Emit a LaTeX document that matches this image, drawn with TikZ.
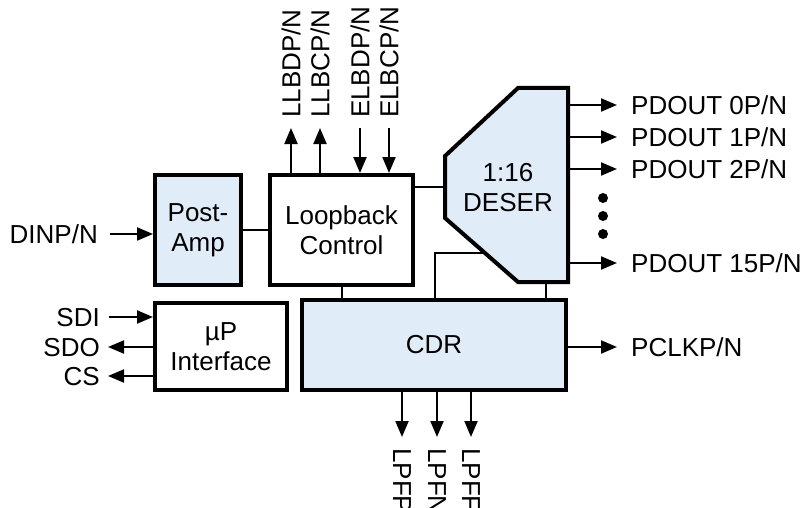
\documentclass[tikz,border=0pt]{standalone}
\usepackage{fontspec}
\setmainfont{Liberation Sans}
\usetikzlibrary{arrows.meta}
\definecolor{boxblue}{RGB}{225,236,249}
\begin{document}
\begin{tikzpicture}[x=1pt,y=-1pt,
  font=\fontsize{26}{30}\selectfont,
  blk/.style={draw, line width=4pt, inner sep=0pt, align=center},
  bluefill/.style={fill=boxblue},
  conn/.style={line width=2pt},
  arr/.style={line width=2pt, -{Triangle[length=16pt,width=13pt]}},
  lbl/.style={inner sep=0pt},
  dotnode/.style={circle, fill=black, inner sep=0pt, minimum size=10pt}
]
\useasboundingbox (0,0) rectangle (808,508);
\clip (0,0) rectangle (808,508);

% blocks
\node[blk, bluefill, minimum width=86pt, minimum height=110pt] (post) at (198,230) {Post-\\Amp};
\node[blk, minimum width=143pt, minimum height=110pt] (loop) at (341.5,230) {Loopback\\Control};
\node[blk, minimum width=132pt, minimum height=87pt] (up) at (221,346.5) {µP\\Interface};
\node[blk, bluefill, minimum width=264pt, minimum height=90pt] (cdr) at (434,345) {CDR};

% DESER trapezoid
\coordinate (d1) at (518,88);
\coordinate (d2) at (568,88);
\coordinate (d3) at (568,282);
\coordinate (d4) at (518,282);
\coordinate (d5) at (445,218);
\coordinate (d6) at (445,156);
\draw[line width=4pt, fill=boxblue, line join=miter] (d1) -- (d2) -- (d3) -- (d4) -- (d5) -- (d6) -- cycle;
\node[lbl, align=center] (deser) at (508,188) {1:16\\DESER};

% internal connections
\coordinate (dl) at (445,187);
\draw[conn] (loop.east |- dl) -- (dl);
\draw[conn] (post.east) -- (loop.west |- post.east);
\coordinate (ds) at (485,253);
\coordinate (cdrA) at (435,300);
\draw[conn] (ds) -- (cdrA |- ds) -- (cdrA);
\coordinate (db) at (546,282);
\draw[conn] (db) -- (db |- cdr.north);
\coordinate (lb) at (342,285);
\draw[conn] (lb) -- (lb |- cdr.north);

% top loopback arrows
\coordinate (t1) at (291,128);
\coordinate (t2) at (320,128);
\coordinate (t3) at (360,128);
\coordinate (t4) at (389,128);
\draw[arr] (t1 |- loop.north) -- (t1);
\draw[arr] (t2 |- loop.north) -- (t2);
\draw[arr] (t3) -- (t3 |- loop.north);
\draw[arr] (t4) -- (t4 |- loop.north);
\node[lbl, rotate=90, anchor=west] (l1) at (291,118) {LLBDP/N};
\node[lbl, rotate=90, anchor=west] (l2) at (320,118) {LLBCP/N};
\node[lbl, rotate=90, anchor=west] (l3) at (360,118) {ELBDP/N};
\node[lbl, rotate=90, anchor=west] (l4) at (389,118) {ELBCP/N};

% input
\node[lbl, anchor=base east] (din) at (98,243) {DINP/N};
\coordinate (dinS) at (110,234);
\draw[arr] (dinS) -- (post.west |- dinS);

% uP interface signals
\node[lbl, anchor=base east] (sdi) at (100,326) {SDI};
\node[lbl, anchor=base east] (sdo) at (100,356) {SDO};
\node[lbl, anchor=base east] (cs) at (100,385) {CS};
\coordinate (sdiS) at (109,317);
\coordinate (sdoE) at (108,347);
\coordinate (csE) at (108,376);
\draw[arr] (sdiS) -- (up.west |- sdiS);
\draw[arr] (up.west |- sdoE) -- (sdoE);
\draw[arr] (up.west |- csE) -- (csE);

% outputs
\foreach \y/\n in {105/0, 137/1, 169/2, 263/15}{
  \coordinate (p\n) at (617,\y);
  \draw[arr] (d2 |- p\n) -- (p\n);
  \node[lbl, anchor=base west] (pt\n) at (631,\y+9.5) {PDOUT \n P/N};
}
\node[dotnode] (dot1) at (603,198) {};
\node[dotnode] (dot2) at (603,216) {};
\node[dotnode] (dot3) at (603,234) {};

\coordinate (pclk) at (617,347);
\draw[arr] (cdr.east |- pclk) -- (pclk);
\node[lbl, anchor=base west] (pclkt) at (631,356.5) {PCLKP/N};

% LPF (labels run past the lower edge, as in the reference)
\foreach \x/\t in {402/LPFP, 437/LPFN, 471/LPFF}{
  \coordinate (lp\t) at (\x,437);
  \draw[arr] (lp\t |- cdr.south) -- (lp\t);
  \node[lbl, rotate=-90, anchor=west] (lt\t) at (\x,448) {\t};
}
\end{tikzpicture}
\end{document}
